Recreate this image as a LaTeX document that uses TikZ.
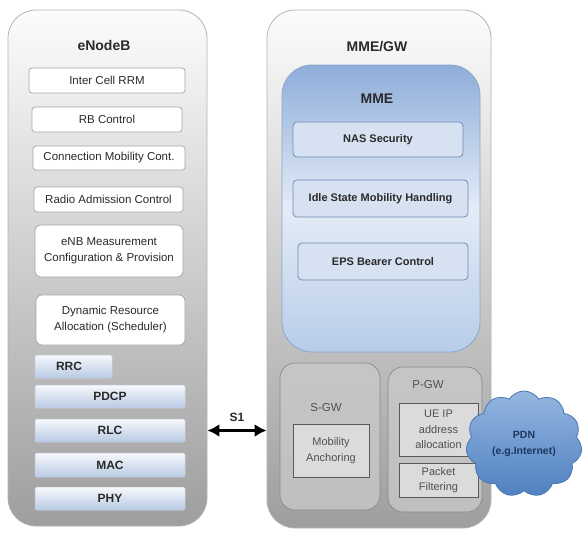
\documentclass[tikz,border=0pt]{standalone}
\usepackage{fontspec}
\setmainfont{Liberation Sans}
\usetikzlibrary{shapes.symbols,arrows.meta}
\definecolor{outerbd}{HTML}{B4B4B4}
\definecolor{outertop}{HTML}{FCFCFC}
\definecolor{outerbot}{HTML}{9E9E9E}
\definecolor{laytop}{HTML}{F7F9FC}
\definecolor{laybot}{HTML}{B8CAE4}
\definecolor{laybd}{HTML}{C8D2E0}
\definecolor{mmetop}{HTML}{8EADDA}
\definecolor{mmemid}{HTML}{E4ECF6}
\definecolor{mmebot}{HTML}{B7CCE8}
\definecolor{mmebd}{HTML}{8AA6CC}
\definecolor{fnfill}{HTML}{D6E2F1}
\definecolor{fnbd}{HTML}{6F8CB4}
\definecolor{gwbd}{HTML}{8A8A8A}
\definecolor{cloudtop}{HTML}{94B6E0}
\definecolor{cloudbot}{HTML}{4F80C0}
\definecolor{cloudbd}{HTML}{4A78B2}
\definecolor{cloudtxt}{HTML}{1D3761}
\definecolor{txt}{HTML}{2A2A2A}
\definecolor{gwtxt}{HTML}{505050}
\tikzset{
  outerbox/.style={draw=outerbd, line width=0.8pt, rounded corners=28pt,
    top color=outertop, bottom color=outerbot, shading angle=0},
  enbbox/.style={draw=gray!70, line width=0.7pt, fill=white, rounded corners=3pt,
    font=\fontsize{11.5}{16}\selectfont, text=txt, align=center, inner sep=0pt},
  bigbox/.style={enbbox, rounded corners=6pt},
  layer/.style={draw=laybd, line width=0.5pt, top color=laytop, bottom color=laybot,
    rounded corners=1.5pt, font=\bfseries\fontsize{12}{14}\selectfont, text=txt, inner sep=0pt},
  mmebox/.style={draw=mmebd, line width=0.8pt, rounded corners=30pt,
    top color=mmetop, bottom color=mmebot, middle color=mmemid},
  fnbox/.style={draw=fnbd, line width=0.8pt, fill=fnfill, rounded corners=4pt,
    font=\bfseries\fontsize{11}{13}\selectfont, text=txt, inner sep=0pt},
  gwbox/.style={draw=gwbd, line width=0.7pt, rounded corners=15pt,
    top color=gray!45, middle color=gray!18, bottom color=gray!50},
  gwfn/.style={draw=gray!70!black, line width=0.7pt, fill=gray!28,
    font=\fontsize{11}{15.5}\selectfont, text=gwtxt, align=center, inner sep=0pt},
  ttl/.style={font=\bfseries\fontsize{14}{16}\selectfont, text=txt},
  gwttl/.style={font=\fontsize{11.5}{13}\selectfont, text=gwtxt}
}
\begin{document}
\begin{tikzpicture}[x=1pt,y=-1pt]
\useasboundingbox (0,0) rectangle (584,533);
\fill[white] (0,0) rectangle (584,533);
% eNodeB
\node[outerbox, minimum width=199pt, minimum height=516pt] (enb) at (107.5,268) {};
\node[ttl] (enbt) at (104,45) {eNodeB};
\node[enbbox, minimum width=156pt, minimum height=25pt] (rrm) at (107,80.5) {Inter Cell RRM};
\node[enbbox, minimum width=150pt, minimum height=25pt] (rb) at (107,119.5) {RB Control};
\node[enbbox, minimum width=152pt, minimum height=24pt] (cmc) at (109,158) {Connection Mobility Cont.};
\node[enbbox, minimum width=149pt, minimum height=25pt] (rac) at (108.5,199.5) {Radio Admission Control};
\node[bigbox, minimum width=148pt, minimum height=52pt] (meas) at (109,251) {eNB Measurement\\Configuration \& Provision};
\node[bigbox, minimum width=149pt, minimum height=50pt] (dra) at (110.5,320) {Dynamic Resource\\Allocation (Scheduler)};
\node[layer, minimum width=77pt, minimum height=23pt] (rrc) at (73.5,366.5) {RRC\hspace*{9pt}};
\node[layer, minimum width=150pt, minimum height=23pt] (pdcp) at (110,396.5) {PDCP};
\node[layer, minimum width=150pt, minimum height=23pt] (rlc) at (110,430.5) {RLC};
\node[layer, minimum width=150pt, minimum height=24pt] (mac) at (110,465) {MAC};
\node[layer, minimum width=150pt, minimum height=23pt] (phy) at (110,498.5) {PHY};
% MME/GW
\node[outerbox, minimum width=224pt, minimum height=518pt] (gw) at (379,269) {};
\node[ttl] (gwt) at (377,47) {MME/GW};
\node[mmebox, minimum width=198pt, minimum height=287pt] (mme) at (381,208.5) {};
\node[ttl] (mmet) at (377,99) {MME};
\node[fnbox, minimum width=170pt, minimum height=35pt] (nas) at (378,139.5) {NAS Security};
\node[fnbox, minimum width=175pt, minimum height=37pt] (idle) at (380.5,198.5) {Idle State Mobility Handling};
\node[fnbox, minimum width=170pt, minimum height=37pt] (eps) at (383,261.5) {EPS Bearer Control};
% gateways
\node[gwbox, minimum width=100pt, minimum height=147pt] (sgw) at (330,436.5) {};
\node[gwttl] (sgwt) at (326,408) {S-GW};
\node[gwfn, minimum width=76pt, minimum height=53pt] (anch) at (331,450.5) {Mobility\\Anchoring};
\node[gwbox, minimum width=94pt, minimum height=145pt] (pgw) at (435,439.5) {};
\node[gwttl] (pgwt) at (428,385) {P-GW};
\node[gwfn, minimum width=79pt, minimum height=53pt] (ueip) at (438.5,429.5) {UE IP\\address\\allocation};
\node[gwfn, minimum width=79pt, minimum height=34pt] (pf) at (438.5,480) {Packet\\Filtering};
% PDN cloud
\node[cloud, cloud puffs=11, cloud puff arc=115, aspect=1.1, draw=cloudbd, line width=0.8pt,
  top color=cloudtop, bottom color=cloudbot, minimum width=116pt, minimum height=106pt,
  inner sep=0pt, align=center, text=cloudtxt, font=\bfseries\fontsize{10.5}{16}\selectfont]
  (pdn) at (524,444) {PDN\\(e.g.Internet)};
% S1
\draw[{Latex[length=12pt,width=13pt]}-{Latex[length=12pt,width=13pt]}, line width=3pt]
  (enb.east |- rlc) -- node[above=4pt, font=\bfseries\fontsize{12}{14}\selectfont, text=txt] (s1) {S1} (gw.west |- rlc);
\end{tikzpicture}
\end{document}
